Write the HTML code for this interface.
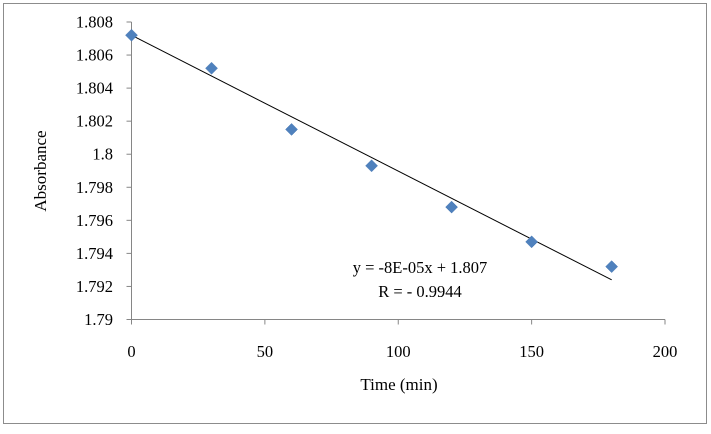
<!DOCTYPE html>
<html><head><meta charset="utf-8"><style>
body{margin:0;background:#fff;}
svg text{font-family:"Liberation Serif",serif;fill:#000;}
</style></head><body>
<svg width="711" height="429" viewBox="0 0 711 429">
<rect x="3.5" y="3.5" width="703" height="420" fill="#fff" stroke="#8c8c8c"/>
<g id="axes"></g>
<g id="marks"></g>
<text x="399" y="390" font-size="17" text-anchor="middle">Time (min)</text>
<text transform="translate(46,171) rotate(-90)" font-size="17" text-anchor="middle">Absorbance</text>
<text x="420" y="273" font-size="16.5" text-anchor="middle">y = -8E-05x + 1.807</text>
<text x="420" y="297" font-size="16.5" text-anchor="middle">R = - 0.9944</text>
</svg>
<script>
const times=[0,30,60,90,120,150,180];
const absorb=[1.8072,1.8052,1.8015,1.7993,1.7968,1.7947,1.7932];
const xTicks=[0,50,100,150,200];
const yTicks=[1.79,1.792,1.794,1.796,1.798,1.8,1.802,1.804,1.806,1.808];
const yTickLabels=["1.79","1.792","1.794","1.796","1.798","1.8","1.802","1.804","1.806","1.808"];
const trendStart=[0,1.8072];
const trendEnd=[180,1.7924];
const NS="http://www.w3.org/2000/svg";
const x=v=>131.5+v/200*533.5;
const y=v=>319.5-(v-1.79)/0.018*297.5;
function mk(t,a,p){const e=document.createElementNS(NS,t);for(const k in a)e.setAttribute(k,a[k]);p.appendChild(e);return e;}
const ax=document.getElementById('axes');
let l=mk('line',{x1:x(0),y1:y(1.808),x2:x(0),y2:y(1.79),stroke:'#868686'},ax);


l=mk('line',{x1:x(0),y1:y(1.79),x2:x(200),y2:y(1.79),stroke:'#868686'},ax);


yTicks.forEach((v,i)=>{
 const t=mk('line',{x1:x(0)-5,x2:x(0),y1:y(v),y2:y(v),stroke:'#868686'},ax);
 
 
 const tx=mk('text',{x:113,y:y(v)+5.5,'font-size':16.5,'text-anchor':'end'},ax);
 tx.textContent=yTickLabels[i];
 
 
});
xTicks.forEach(v=>{
 const t=mk('line',{x1:x(v),x2:x(v),y1:y(1.79),y2:y(1.79)+5,stroke:'#868686'},ax);
 
 
 const tx=mk('text',{x:x(v),y:357,'font-size':16.5,'text-anchor':'middle'},ax);
 tx.textContent=String(v);
 
 
});
const mg=document.getElementById('marks');
const tl=mk('line',{x1:x(trendStart[0]),y1:y(trendStart[1]),x2:x(trendEnd[0]),y2:y(trendEnd[1]),stroke:'#000','stroke-width':1},mg);


times.forEach((t,i)=>{
 const cx=x(t),cy=y(absorb[i]);
 const p=mk('polygon',{points:`${cx},${cy-6} ${cx+6},${cy} ${cx},${cy+6} ${cx-6},${cy}`,fill:'#4f81bd',stroke:'#4a7ab5','stroke-width':0.5},mg);
 
 
});
</script>
</body></html>
